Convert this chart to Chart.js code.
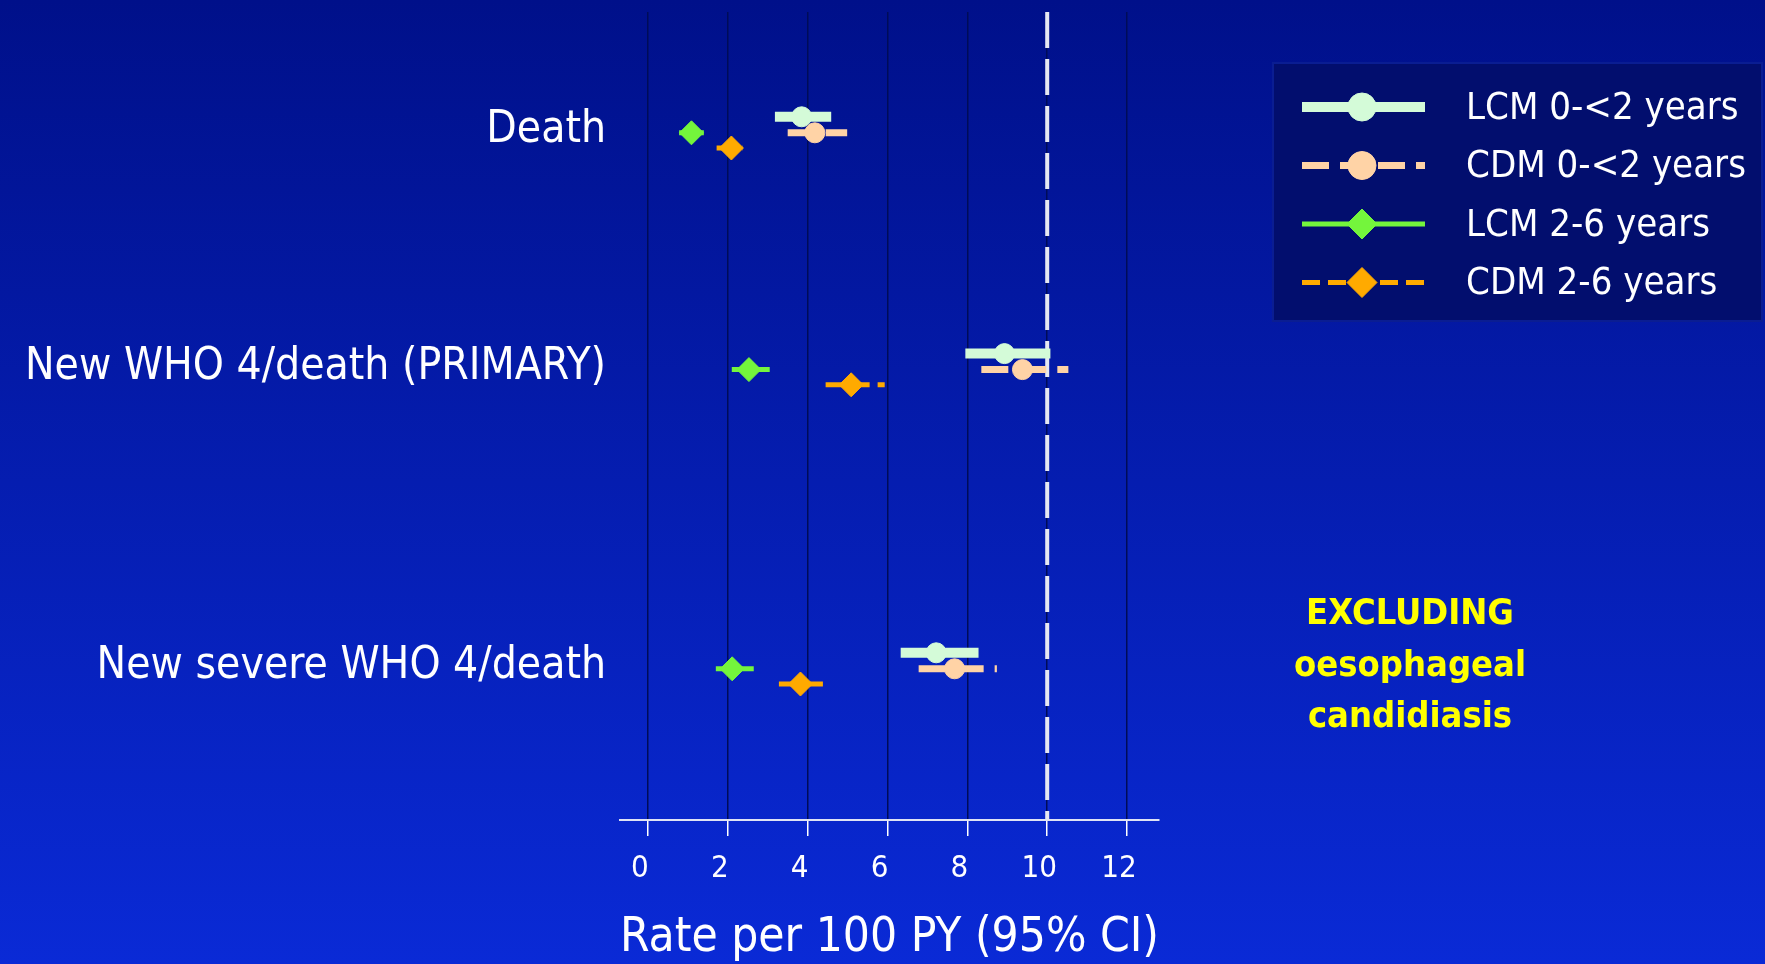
<!DOCTYPE html>
<html>
<head>
<meta charset="utf-8">
<script src="https://cdn.jsdelivr.net/npm/chart.js@4.4.0/dist/chart.umd.min.js"></script>
<style>
html, body { margin: 0; padding: 0; }
body { width: 1765px; height: 964px; overflow: hidden; background: linear-gradient(#00108a, #0a2ad6); }
</style>
</head>
<body>
<canvas id="myChart" width="1765" height="964"></canvas>
<script>
const categories = ['Death', 'New WHO 4/death (PRIMARY)', 'New severe WHO 4/death'];
const seriesNames = ['LCM 0-<2 years', 'CDM 0-<2 years', 'LCM 2-6 years', 'CDM 2-6 years'];

// rate per 100 PY with 95% CI, one value per category
const lcm02Rate = [3.85, 8.93, 7.22];
const lcm02Low  = [3.18, 7.95, 6.33];
const lcm02High = [4.59, 10.08, 8.28];

const cdm02Rate = [4.18, 9.38, 7.68];
const cdm02Low  = [3.50, 8.35, 6.78];
const cdm02High = [4.99, 10.53, 8.74];

const lcm26Rate = [1.09, 2.53, 2.11];
const lcm26Low  = [0.78, 2.10, 1.70];
const lcm26High = [1.40, 3.05, 2.65];

const cdm26Rate = [2.09, 5.09, 3.82];
const cdm26Low  = [1.72, 4.45, 3.28];
const cdm26High = [2.38, 5.93, 4.44];

const xTicks = [0, 2, 4, 6, 8, 10, 12];
const refValue = 10;

// vertical slot of each category row and of each series inside a row
const rowPos = [15.1, 44.7, 82.1];
const rowShift = [-2, 0, 0, 1.9];

const styles = [
  { color: '#d4fbd8', width: 10, dash: [], point: 'circle', r: 10, lr: 14 },
  { color: '#ffd3a6', width: 7, dash: [27, 11], point: 'circle', r: 10, lr: 14 },
  { color: '#74f53c', width: 5, dash: [], point: 'rectRot', r: 12, lr: 15 },
  { color: '#ffaa00', width: 5, dash: [18, 8], point: 'rectRot', r: 12, lr: 15 }
];

const fontFam = '"DejaVu Sans Condensed", "DejaVu Sans", sans-serif';
Chart.defaults.font.family = fontFam;

function ciData(rate, low, high, shift) {
  const pts = [];
  rate.forEach((v, i) => {
    const y = rowPos[i] + shift;
    pts.push({ x: low[i], y: y }, { x: v, y: y, est: true }, { x: high[i], y: y }, { x: null, y: null });
  });
  return pts;
}

const allSeries = [
  [lcm02Rate, lcm02Low, lcm02High],
  [cdm02Rate, cdm02Low, cdm02High],
  [lcm26Rate, lcm26Low, lcm26High],
  [cdm26Rate, cdm26Low, cdm26High]
];

const datasets = allSeries.map((s, i) => {
  const st = styles[i];
  return {
    label: seriesNames[i],
    data: ciData(s[0], s[1], s[2], rowShift[i]),
    showLine: true,
    borderColor: st.color,
    borderWidth: st.width,
    borderDash: st.dash,
    borderCapStyle: 'butt',
    pointStyle: st.point,
    pointBackgroundColor: st.color,
    pointBorderColor: st.color,
    pointBorderWidth: 1,
    pointRadius: c => (c.raw && c.raw.est ? st.r : 0),
    legendRadius: st.lr
  };
});

// reference line, drawn under everything
datasets.push({
  label: 'ref',
  data: [{ x: refValue, y: 0 }, { x: refValue, y: 101 }],
  showLine: true,
  borderColor: '#e6e8f2',
  borderWidth: 4,
  borderDash: [36, 11],
  pointRadius: 0
});

function marker(c, style, r, x, y) {
  c.beginPath();
  if (style === 'circle') {
    c.arc(x, y, r, 0, Math.PI * 2);
  } else {
    c.moveTo(x, y - r); c.lineTo(x + r, y); c.lineTo(x, y + r); c.lineTo(x - r, y); c.closePath();
  }
  c.fill();
  c.stroke();
}

const legendBox = {
  id: 'legendBox',
  afterDraw(chart) {
    const c = chart.ctx;
    c.save();
    c.fillStyle = '#020e6e';
    c.fillRect(1273, 63, 489, 258);
    c.strokeStyle = '#0a1d92';
    c.lineWidth = 2;
    c.strokeRect(1273, 63, 489, 258);
    seriesNames.forEach((name, i) => {
      const ds = chart.data.datasets[i];
      const y = 107 + i * 58.5;
      c.beginPath();
      c.setLineDash(ds.borderDash);
      c.lineWidth = ds.borderWidth;
      c.strokeStyle = ds.borderColor;
      c.moveTo(1302, y);
      c.lineTo(1425, y);
      c.stroke();
      c.setLineDash([]);
      c.fillStyle = ds.pointBackgroundColor;
      c.strokeStyle = ds.pointBorderColor;
      c.lineWidth = 1;
      marker(c, ds.pointStyle, ds.legendRadius, 1362, y);
      c.fillStyle = '#ffffff';
      c.font = '38px ' + fontFam;
      c.textAlign = 'left';
      c.textBaseline = 'middle';
      c.fillText(name, 1466, y + 2);
    });
    c.restore();
  }
};

const noteText = {
  id: 'noteText',
  afterDraw(chart) {
    const c = chart.ctx;
    c.save();
    c.fillStyle = '#ffff00';
    c.font = 'bold 36px ' + fontFam;
    c.textAlign = 'center';
    c.textBaseline = 'middle';
    ['EXCLUDING', 'oesophageal', 'candidiasis'].forEach((t, i) => {
      c.fillText(t, 1410, 615 + i * 51.5);
    });
    c.restore();
  }
};

var ctx = document.getElementById('myChart').getContext('2d');
const chart = new Chart(ctx, {
  type: 'scatter',
  data: { datasets: datasets },
  options: {
    responsive: false,
    animation: false,
    layout: { padding: { top: 12, right: 606, left: 0, bottom: 0 } },
    plugins: { legend: { display: false }, tooltip: { enabled: false } },
    scales: {
      x: {
        type: 'linear',
        min: -0.7,
        max: 12.8,
        afterBuildTicks: s => { s.ticks = xTicks.map(v => ({ value: v })); },
        afterFit: s => { s.height = 144; s.paddingLeft = 0; s.paddingRight = 0; },
        grid: { color: '#000c58', lineWidth: 1.5, tickLength: 16, tickColor: '#ffffff', tickWidth: 1.5 },
        border: { color: '#dfe3f5', width: 2 },
        ticks: { color: '#ffffff', font: { size: 31 }, padding: 14, labelOffset: -8, maxRotation: 0, autoSkip: false },
        title: { display: true, text: 'Rate per 100 PY (95% CI)', color: '#ffffff', font: { size: 48, lineHeight: 1.05 }, padding: { top: 0, bottom: 0 } }
      },
      y: {
        type: 'linear',
        reverse: true,
        min: 0,
        max: 101,
        afterBuildTicks: s => { s.ticks = rowPos.map(v => ({ value: v })); },
        afterFit: s => { s.width = 620; s.paddingTop = 0; s.paddingBottom = 0; },
        grid: { display: false, drawTicks: false },
        border: { display: false },
        ticks: { color: '#ffffff', font: { size: 44 }, padding: 14, labelOffset: -2, callback: (v, i) => categories[i] }
      }
    }
  },
  plugins: [legendBox, noteText]
});
</script>
</body>
</html>
